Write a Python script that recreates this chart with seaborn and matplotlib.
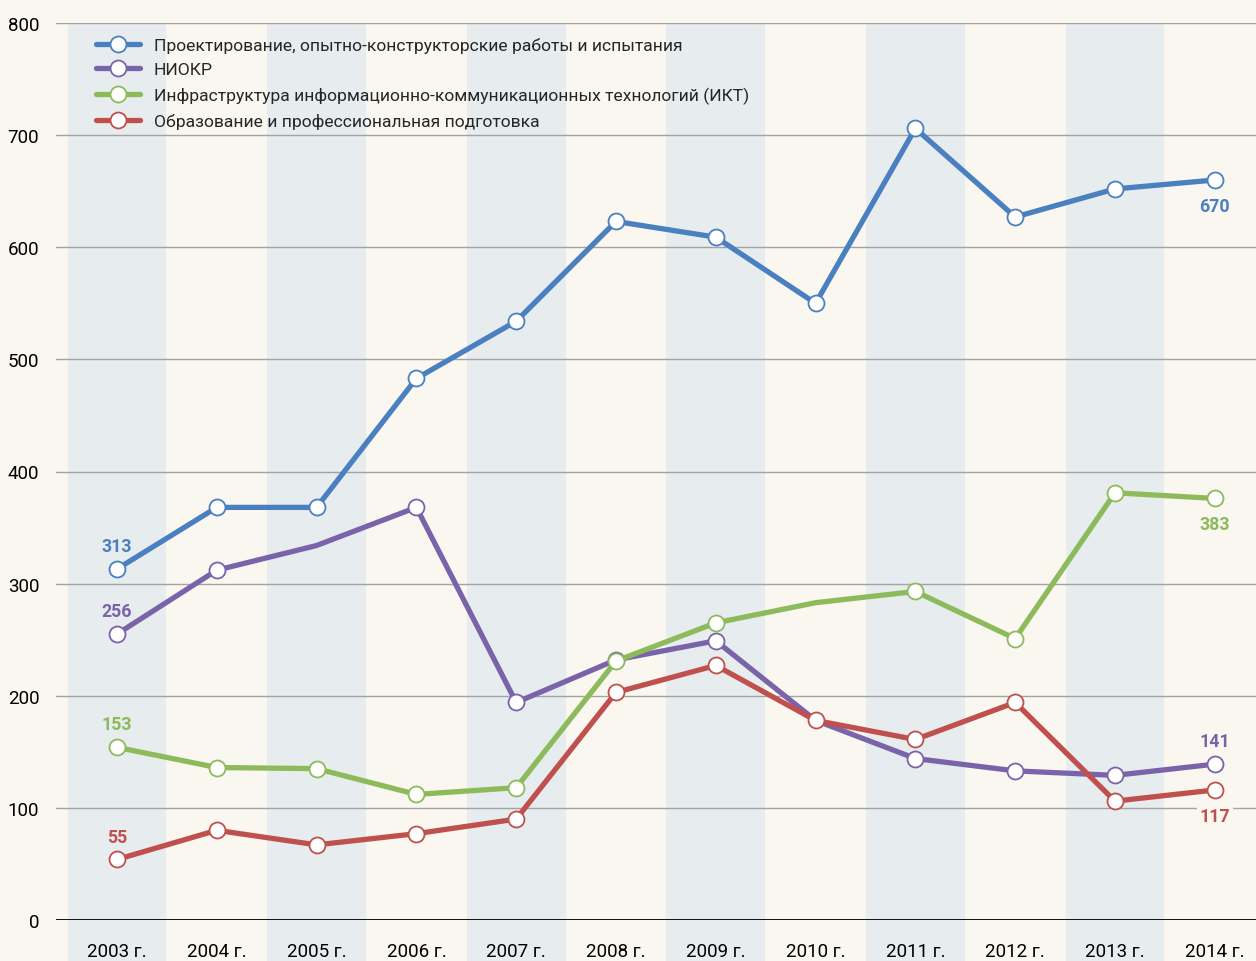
import matplotlib
matplotlib.use("Agg")
import matplotlib.pyplot as plt
import seaborn as sns
import pandas as pd
import numpy as np

years = ["2003 г.", "2004 г.", "2005 г.", "2006 г.", "2007 г.", "2008 г.",
         "2009 г.", "2010 г.", "2011 г.", "2012 г.", "2013 г.", "2014 г."]

series_names = [
    "Проектирование, опытно-конструкторские работы и испытания",
    "НИОКР",
    "Инфраструктура информационно-коммуникационных технологий (ИКТ)",
    "Образование и профессиональная подготовка",
]

design_rd = [313, 368, 368, 483, 534, 623, 609, 550, 706, 627, 652, 660]
niokr = [255, 312, 334, 368, 194, 232, 249, 178, 144, 133, 129, 139]
ict = [154, 136, 135, 112, 118, 231, 265, 283, 293, 251, 381, 376]
education = [54, 80, 67, 77, 90, 203, 227, 178, 161, 194, 106, 116]

# which points carry a circle marker
design_marked = [1, 1, 1, 1, 1, 1, 1, 1, 1, 1, 1, 1]
niokr_marked = [1, 1, 0, 1, 1, 1, 1, 0, 1, 1, 1, 1]
ict_marked = [1, 1, 1, 1, 1, 1, 1, 0, 1, 1, 1, 1]
education_marked = [1, 1, 1, 1, 1, 1, 1, 1, 1, 1, 1, 1]

# value labels at first and last year
first_labels = ["313", "256", "153", "55"]
last_labels = ["670", "141", "383", "117"]
last_label_above = [False, True, False, False]

colors = ["#4A7FC0", "#7B63A9", "#8DBB5B", "#C0504D"]
bg = "#F9F7F0"
band = "#E7ECEF"

values = [design_rd, niokr, ict, education]
marks = [design_marked, niokr_marked, ict_marked, education_marked]

rows = []
for name, vals, mk in zip(series_names, values, marks):
    for i, (y, v, m) in enumerate(zip(years, vals, mk)):
        rows.append({"series": name, "idx": i, "year": y, "value": v, "marked": bool(m)})
df = pd.DataFrame(rows)

sns.set_style("white")
plt.rcParams["font.family"] = ["Roboto", "DejaVu Sans"]

fig = plt.figure(figsize=(12.56, 9.62), dpi=100, facecolor=bg)
ax = fig.add_axes([56 / 1256, 41 / 962, 1 - 56 / 1256, (921 - 24) / 962])
ax.set_facecolor(bg)

n = len(years)
ax.set_xlim(-0.611, (1256 - 117) / 99.8)
ax.set_ylim(0, 800)

# alternating bands, extended below the axis
for i in range(0, n, 2):
    ax.axvspan(i - 0.495, i + 0.495, ymin=-41 / 897, ymax=1, color=band, lw=0,
               zorder=0, clip_on=False)

ax.set_yticks(np.arange(0, 801, 100))
ax.yaxis.grid(True, color="#A3A3A3", lw=1.0, zorder=1)
ax.set_axisbelow(True)
ax.axhline(0, color="black", lw=1.3, zorder=2)

for s in ax.spines.values():
    s.set_visible(False)

for k, (name, c) in enumerate(zip(series_names, colors)):
    sub = df[df["series"] == name]
    sns.lineplot(data=sub, x="idx", y="value", color=c, lw=3.8, ax=ax,
                 zorder=3 + k, legend=False, solid_capstyle="round")
    msub = sub[sub["marked"]]
    ax.plot(msub["idx"], msub["value"], ls="none", marker="o", ms=11.5,
            mfc="white", mec=c, mew=1.3, zorder=3 + k)

# legend
from matplotlib.lines import Line2D
handles = [Line2D([0], [0], color=c, lw=3.8, marker="o", ms=11.5, mfc="white",
                  mec=c, mew=1.3, solid_capstyle="round") for c in colors]
leg = ax.legend(handles, series_names, loc="upper left",
                bbox_to_anchor=(33 / 1200, 1 - 7 / 897), frameon=False,
                fontsize=12.6, handlelength=2.5, handletextpad=0.8,
                labelspacing=0.52, borderaxespad=0, markerscale=1)

# value labels
for k, c in enumerate(colors):
    ax.annotate(first_labels[k], (0, values[k][0]), xytext=(0, 10),
                textcoords="offset points", ha="center", va="bottom",
                color=c, fontsize=12.8, fontweight="bold", zorder=10)
    above = last_label_above[k]
    ax.annotate(last_labels[k], (n - 1, values[k][-1]),
                xytext=(0, 10 if above else -12), textcoords="offset points",
                ha="center", va="bottom" if above else "top",
                color=c, fontsize=12.8, fontweight="bold", zorder=10,
                bbox=dict(boxstyle="square,pad=0.15", fc=bg, ec="none"))

ax.set_xticks(range(n))
ax.set_xticklabels(years)
ax.tick_params(axis="x", length=0, pad=16, labelsize=13.5, labelcolor="black")
ax.tick_params(axis="y", length=0, pad=12, labelsize=13.5, labelcolor="black")
ax.set_xlabel("")
ax.set_ylabel("")

fig.savefig("out.png", dpi=100, facecolor=bg)
